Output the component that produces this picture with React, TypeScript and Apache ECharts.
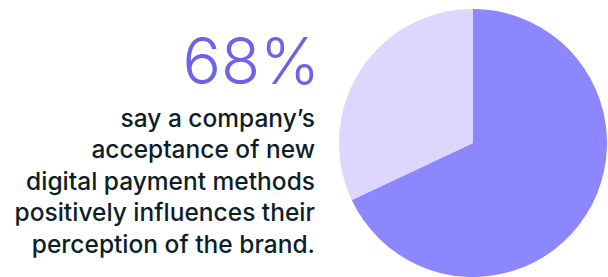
import React, { useEffect, useRef } from "react";
import * as echarts from "echarts";

const categories = ["Positively influenced", "Other"];
const values = [68, 32];
const headline = "68%";
const bodyLines = [
  "say a company\u2019s",
  "acceptance of new",
  "digital payment methods",
  "positively influences their",
  "perception of the brand.",
];

export default function App() {
  const ref = useRef<HTMLDivElement>(null);
  useEffect(() => {
    if (!ref.current) return;
    const chart = echarts.init(ref.current, undefined, { renderer: "svg" });
    const graphic: any[] = [
      {
        type: "text",
        x: 320,
        y: 60,
        style: {
          text: headline,
          fill: "#6C63E6",
          font: '300 64px "Inter", sans-serif',
          textAlign: "right",
          textVerticalAlign: "middle",
        },
      },
      ...bodyLines.map((t, i) => ({
        type: "text",
        x: 315,
        y: 117.5 + i * 31.6,
        style: {
          text: t,
          fill: "#0E1E29",
          font: '500 24.5px "Inter", sans-serif',
          textAlign: "right",
          textVerticalAlign: "middle",
        },
      })),
    ];
    chart.setOption({
      animation: false,
      backgroundColor: "#ffffff",
      graphic,
      series: [
        {
          type: "pie",
          center: [473, 143],
          radius: [0, 134],
          startAngle: 90,
          clockwise: true,
          label: { show: false },
          labelLine: { show: false },
          emphasis: { disabled: true },
          itemStyle: { borderWidth: 0 },
          data: categories.map((c, i) => ({
            name: c,
            value: values[i],
            itemStyle: { color: i === 0 ? "#8C86FF" : "#DDD7FF" },
          })),
        },
      ],
    });
    return () => chart.dispose();
  }, []);
  return (
    <div
      ref={ref}
      style={{ width: 608, height: 277, position: "absolute", left: 0, top: 0 }}
    />
  );
}
